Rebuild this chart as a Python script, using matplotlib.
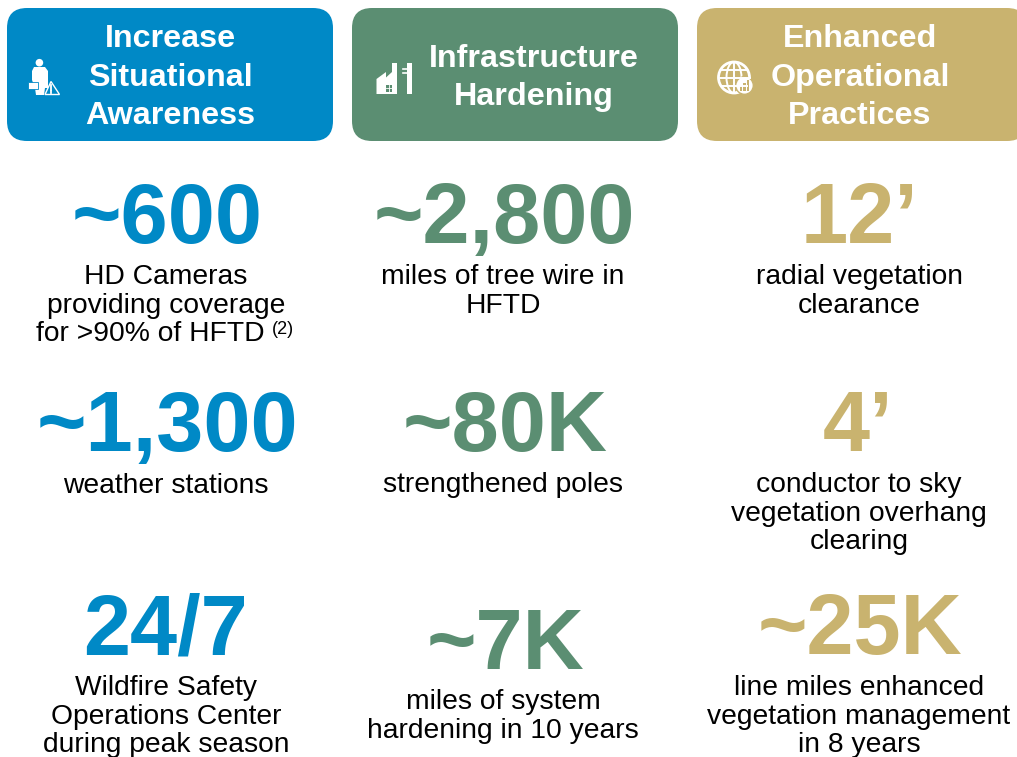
import matplotlib
matplotlib.use("Agg")
import matplotlib.pyplot as plt
from matplotlib.patches import FancyBboxPatch, Rectangle, Circle, Polygon, Ellipse

plt.rcParams["font.family"] = ["Liberation Sans", "DejaVu Sans"]

# content
headers = ["Increase\nSituational\nAwareness", "Infrastructure\nHardening", "Enhanced\nOperational\nPractices"]
colors = ["#0089C6", "#5B8E72", "#C9B36F"]

big_numbers = [
    ["~600", "~1,300", "24/7"],
    ["~2,800", "~80K", "~7K"],
    ["12\u2019", "4\u2019", "~25K"],
]
descriptions = [
    [["HD Cameras", "providing coverage", "for >90% of HFTD"], ["weather stations"],
     ["Wildfire Safety", "Operations Center", "during peak season"]],
    [["miles of tree wire in", "HFTD"], ["strengthened poles"],
     ["miles of system", "hardening in 10 years"]],
    [["radial vegetation", "clearance"], ["conductor to sky", "vegetation overhang", "clearing"],
     ["line miles enhanced", "vegetation management", "in 8 years"]],
]
footnote = "(2)"

# layout, in pixels of the original picture
box_left = [7, 352, 697]
box_width = [326, 326, 330]
header_x = [170, 534, 860]
header_y = [[47, 86, 124], [67, 105], [47, 86, 124]]
big_x = [[167, 167, 166], [504, 505, 505], [859, 858, 860]]
big_y = [[243, 451, 654], [243, 451, 669], [243, 451, 654]]
desc_x = [[166, 166, 166], [503, 503, 503], [859, 859, 859]]
desc_y = [[284, 493, 695], [284, 492, 709], [284, 492, 695]]
line_step = 28.6

fig = plt.figure(figsize=(10.17, 7.57), dpi=100)
ax = fig.add_axes([0, 0, 1, 1])
ax.set_xlim(0, 1017)
ax.set_ylim(757, 0)
ax.axis("off")

for i in range(3):
    box = FancyBboxPatch((box_left[i], 8), box_width[i], 133,
                         boxstyle="round,pad=0,rounding_size=20", fc=colors[i], ec="none")
    ax.add_patch(box)
    for line, y in zip(headers[i].split("\n"), header_y[i]):
        ax.text(header_x[i], y, line, color="white", fontsize=23.2, fontweight="bold",
                ha="center", va="baseline")
    for j in range(3):
        ax.text(big_x[i][j], big_y[i][j], big_numbers[i][j], color=colors[i], fontsize=61,
                fontweight="bold", ha="center", va="baseline")
        for k, line in enumerate(descriptions[i][j]):
            x = desc_x[i][j]
            if line.startswith("for >90%"):
                # centred together with the footnote mark
                x -= 16
            ax.text(x, desc_y[i][j] + k * line_step, line, color="black", fontsize=20.3,
                    ha="center", va="baseline")

ax.text(272, 334, footnote, color="black", fontsize=13, ha="left", va="baseline")

# person icon
ax.add_patch(Circle((39.4, 62.7), 3.8, fc="white", ec="none"))
ax.add_patch(Polygon([(34, 67), (45, 67), (48, 71), (48, 88), (45, 88), (44, 95), (36, 95), (35, 88), (32, 80), (32, 71)],
                     fc="white", ec="none"))
ax.add_patch(Rectangle((27.5, 81.5), 10, 7, fc="white", ec=colors[0], lw=0.6))
ax.add_patch(Polygon([(51, 81.5), (59.5, 94.5), (45, 94.5)], fc=colors[0], ec="white", lw=1))
ax.plot([51, 51], [85, 90], color="white", lw=1.3)
ax.plot([51, 51], [91.3, 92.5], color="white", lw=1.3)

# factory and pole icon
ax.add_patch(Polygon([(376.5, 94), (376.5, 79), (386, 72), (386, 77.5), (392, 72), (392, 63), (397, 63), (397, 94)],
                     fc="white", ec="none"))
ax.add_patch(Rectangle((386, 85), 6, 6.5, fc=colors[1], ec="none"))
ax.plot([389, 389], [85, 91.5], color="white", lw=0.6)
ax.plot([386, 392], [88.2, 88.2], color="white", lw=0.6)
ax.add_patch(Rectangle((407, 63), 5, 31, fc="white", ec="none"))
ax.plot([403, 407], [69, 69], color="white", lw=1.2)
ax.plot([403, 407], [72.5, 72.5], color="white", lw=1.2)

# globe icon
gx, gy = 734, 77.5
ax.add_patch(Circle((gx, gy), 15.5, fc="none", ec="white", lw=2))
ax.add_patch(Ellipse((gx, gy), 15, 31, fc="none", ec="white", lw=1.4))
ax.plot([gx, gx], [gy - 15.5, gy + 15.5], color="white", lw=1.4)
ax.plot([gx - 15.5, gx + 15.5], [gy, gy], color="white", lw=1.4)
ax.plot([gx - 13, gx + 13], [gy - 8, gy - 8], color="white", lw=1.4)
ax.plot([gx - 13, gx + 13], [gy + 8, gy + 8], color="white", lw=1.4)
ax.add_patch(Circle((744.5, 85.5), 8.8, fc="white", ec=colors[2], lw=1))
for bar_x, bar_top in zip([739.5, 743.2, 746.9], [86, 83, 80]):
    ax.add_patch(Rectangle((bar_x, bar_top), 2.4, 91 - bar_top, fc=colors[2], ec="none"))

fig.savefig("out.png", dpi=100)
